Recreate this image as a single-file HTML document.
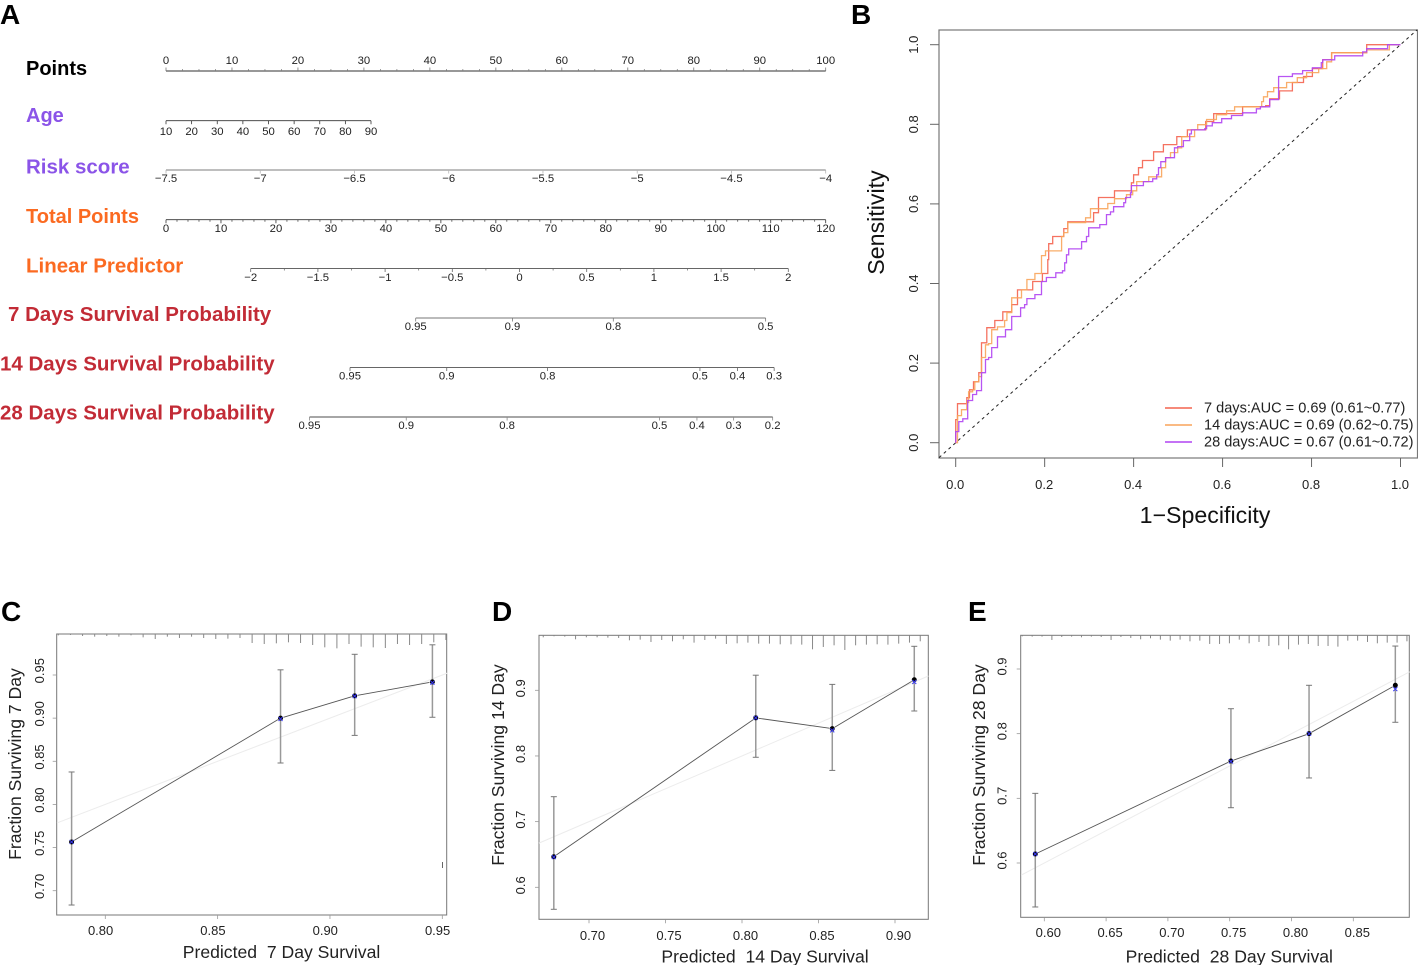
<!DOCTYPE html>
<html lang="en">
<head>
<meta charset="utf-8">
<title>Nomogram, ROC and calibration curves</title>
<style>
html,body{margin:0;padding:0;background:#fff;}
svg{display:block;font-family:"Liberation Sans",Arial,sans-serif;}
.panel{font-weight:bold;font-size:28px;fill:#000;}
.nom{font-weight:bold;font-size:20.5px;}
.atitle{font-size:17.6px;fill:#222;}
.rtitle{font-size:23.2px;fill:#111;}
.leg{font-size:14.55px;fill:#222;}
</style>
</head>
<body>
<svg id="fig" width="1418" height="965" viewBox="0 0 1418 965" xmlns="http://www.w3.org/2000/svg">
  <rect width="1418" height="965" fill="#fff"/>
  <text class="panel" x="0" y="24">A</text>
  <text class="panel" x="851" y="24">B</text>
  <text class="panel" x="1" y="621">C</text>
  <text class="panel" x="492" y="621">D</text>
  <text class="panel" x="968" y="621">E</text>

  <g id="nomogram">
    <text class="nom" x="26" y="75" fill="#000" style="font-size:20px">Points</text>
    <text class="nom" x="26" y="122" fill="#8b54e8" style="font-size:20px">Age</text>
    <text class="nom" x="26" y="173.5" fill="#8b54e8">Risk score</text>
    <text class="nom" x="26" y="223" fill="#fb6a21" style="font-size:20px">Total Points</text>
    <text class="nom" x="26" y="272.5" fill="#fb6a21">Linear Predictor</text>
    <text class="nom" x="8" y="321" fill="#c22b36">7 Days Survival Probability</text>
    <text class="nom" x="0" y="370.5" fill="#c22b36">14 Days Survival Probability</text>
    <text class="nom" x="0" y="419.5" fill="#c22b36">28 Days Survival Probability</text>
  </g>

  <g id="roc">
    <rect x="939" y="30" width="478.5" height="428" fill="none" stroke="#777" stroke-width="1.2"/>
    <text class="rtitle" transform="translate(884,222.5) rotate(-90)" text-anchor="middle">Sensitivity</text>
    <text class="rtitle" x="1205" y="523" text-anchor="middle">1−Specificity</text>
    <g>
      <text class="leg" x="1204" y="412.5">7 days:AUC = 0.69 (0.61~0.77)</text>
      <text class="leg" x="1204" y="429.5">14 days:AUC = 0.69 (0.62~0.75)</text>
      <text class="leg" x="1204" y="446.5">28 days:AUC = 0.67 (0.61~0.72)</text>
      <line x1="1165" x2="1192" y1="408" y2="408" stroke="#f4634f" stroke-width="1.6"/>
      <line x1="1165" x2="1192" y1="425" y2="425" stroke="#f8a45a" stroke-width="1.6"/>
      <line x1="1165" x2="1192" y1="442" y2="442" stroke="#b043f2" stroke-width="1.6"/>
    </g>
  </g>

  <g id="calC">
    <rect x="56.7" y="634" width="390" height="281" fill="none" stroke="#777" stroke-width="1"/>
    <text class="atitle" x="281.5" y="958" text-anchor="middle" xml:space="preserve">Predicted  7 Day Survival</text>
    <text class="atitle" transform="translate(21,764) rotate(-90)" text-anchor="middle">Fraction Surviving 7 Day</text>
    <line x1="442.5" x2="442.5" y1="862" y2="868" stroke="#666" stroke-width="1"/>
  </g>
  <g id="calD">
    <rect x="539" y="635.3" width="389.3" height="284" fill="none" stroke="#777" stroke-width="1"/>
    <text class="atitle" x="765" y="962.5" text-anchor="middle" xml:space="preserve">Predicted  14 Day Survival</text>
    <text class="atitle" transform="translate(504,765) rotate(-90)" text-anchor="middle">Fraction Surviving 14 Day</text>
  </g>
  <g id="calE">
    <rect x="1020.7" y="635.3" width="388.6" height="282" fill="none" stroke="#777" stroke-width="1"/>
    <text class="atitle" x="1229.3" y="962.5" text-anchor="middle" xml:space="preserve">Predicted  28 Day Survival</text>
    <text class="atitle" transform="translate(985,765) rotate(-90)" text-anchor="middle">Fraction Surviving 28 Day</text>
  </g>
</svg>

<script>
/* ---------- Nomogram tick values ---------- */
const pointsTicks = [0,10,20,30,40,50,60,70,80,90,100];
const ageTicks = [10,20,30,40,50,60,70,80,90];
const riskTicks = [-7.5,-7,-6.5,-6,-5.5,-5,-4.5,-4];
const totalPointsTicks = [0,10,20,30,40,50,60,70,80,90,100,110,120];
const linearPredictorTicks = [-2,-1.5,-1,-0.5,0,0.5,1,1.5,2];
const survival7Ticks = [0.95,0.9,0.8,0.5];
const survival14Ticks = [0.95,0.9,0.8,0.5,0.4,0.3];
const survival28Ticks = [0.95,0.9,0.8,0.5,0.4,0.3,0.2];

/* ---------- ROC curves (step points) ---------- */
const rocAxisTicks = [0,0.2,0.4,0.6,0.8,1];
const fpr7 = [0,0,.004,.025,.031,.040,.052,.058,.070,.088,.106,.126,.139,.173,.195,.207,.209,.218,.243,.252,.310,.321,.357,.395,.400,.411,.420,.445,.467,.497,.521,.562,.580,.645,.697,.706,.728,.757,.782,.802,.825,.845,.924,1];
const tpr7 = [0,.058,.098,.113,.133,.153,.176,.251,.289,.307,.329,.347,.384,.405,.425,.460,.500,.518,.538,.555,.578,.616,.633,.653,.673,.691,.709,.731,.749,.769,.786,.807,.827,.844,.847,.864,.884,.905,.920,.940,.962,.980,1,1];
const fpr14 = [0,.004,.013,.025,.029,.038,.043,.052,.058,.067,.074,.081,.094,.110,.115,.126,.148,.160,.178,.193,.202,.238,.243,.252,.292,.303,.342,.357,.384,.398,.407,.434,.463,.472,.483,.499,.508,.537,.544,.564,.586,.609,.627,.688,.692,.701,.715,.744,.768,.789,.816,.834,.845,.924,.975,1];
const tpr14 = [0,.068,.083,.101,.128,.133,.153,.166,.214,.246,.249,.284,.291,.307,.327,.364,.384,.410,.425,.470,.482,.518,.528,.553,.565,.588,.601,.613,.623,.633,.656,.668,.691,.716,.729,.741,.769,.786,.799,.812,.824,.834,.844,.857,.869,.882,.892,.905,.917,.930,.940,.957,.980,.987,1,1];
const fpr28 = [0,0,.007,.016,.027,.038,.047,.058,.067,.074,.081,.094,.112,.126,.146,.155,.160,.178,.193,.204,.225,.240,.245,.249,.254,.283,.294,.299,.324,.339,.348,.355,.378,.382,.393,.395,.422,.443,.452,.456,.461,.472,.492,.499,.512,.526,.530,.560,.564,.577,.598,.620,.645,.676,.685,.706,.726,.757,.780,.802,.822,.825,.852,.915,.924,.971,1];
const tpr28 = [0,.028,.053,.060,.106,.121,.131,.176,.209,.214,.239,.266,.284,.317,.339,.347,.362,.372,.405,.415,.427,.432,.452,.472,.487,.505,.518,.540,.548,.573,.580,.593,.603,.616,.628,.646,.656,.663,.673,.691,.706,.716,.741,.744,.759,.776,.786,.789,.796,.804,.814,.822,.829,.839,.844,.862,.920,.927,.935,.942,.955,.962,.972,.982,.990,1,1];

/* ---------- Calibration, 7 day ---------- */
const xTicks7 = [0.80,0.85,0.90,0.95];
const yTicks7 = [0.70,0.75,0.80,0.85,0.90,0.95];
const predicted7 = [.785,.878,.911,.9456];
const observed7 = [.7565,.900,.9258,.942];
const corrected7 = [.7565,.899,.9255,.941];
const lower7 = [.6834,.848,.880,.901];
const upper7 = [.8376,.956,.974,.985];
const rug7 = [4,3,6,8,6,8,4,10,15,8,12,8,12,15,14,12,27,30,28,25,27,33,40,43,30,38,40,42,30,33,30,25,18];

/* ---------- Calibration, 14 day ---------- */
const xTicks14 = [0.70,0.75,0.80,0.85,0.90];
const yTicks14 = [0.6,0.7,0.8,0.9];
const predicted14 = [.677,.809,.859,.9126];
const observed14 = [.6466,.858,.8416,.916];
const corrected14 = [.646,.858,.839,.9127];
const lower14 = [.5665,.798,.778,.8685];
const upper14 = [.738,.923,.909,.967];
const rug14 = [6,3,4,12,6,6,7,8,15,13,20,14,18,12,22,14,10,26,24,22,25,25,27,27,28,42,35,30,44,30,28,27,28,25,22,18];

/* ---------- Calibration, 28 day ---------- */
const xTicks28 = [0.60,0.65,0.70,0.75,0.80,0.85];
const yTicks28 = [0.6,0.7,0.8,0.9];
const predicted28 = [.5927,.751,.8142,.884];
const observed28 = [.6139,.7577,.80,.8748];
const corrected28 = [.6139,.757,.80,.8689];
const lower28 = [.532,.6855,.7315,.8176];
const upper28 = [.7077,.8386,.8748,.9355];
const rug28 = [3,4,4,14,5,4,6,4,5,14,5,8,12,9,13,16,13,18,16,26,26,24,13,24,20,32,30,42,28,26,32,32,34,16,16,20,24,22,22,18];

var NS = 'http://www.w3.org/2000/svg';
function mk(tag, attrs, parent) {
  var el = document.createElementNS(NS, tag);
  for (var k in attrs) el.setAttribute(k, attrs[k]);
  parent.appendChild(el);
  return el;
}
function lin(d0, r0, d1, r1) {
  return function (v) { return r0 + (v - d0) * (r1 - r0) / (d1 - d0); };
}
function cll(s) { return Math.log(-Math.log(s)); }
function cllScale(x95) {
  return function (s) { return x95 + 134.4 * (cll(s) - cll(0.95)); };
}
function fmtSigned(v) { return (v < 0 ? '\u2212' : '') + Math.abs(v); }

/* ---------- Nomogram ---------- */
var nom = document.getElementById('nomogram');

function nomAxis(opts) {
  var g = mk('g', {}, nom);
  
  
  var t = opts.ticks, sc = opts.scale, dir = opts.up ? -1 : 1;
  var xs = t.map(sc);
  var axis = mk('line', {x1: Math.min.apply(null, xs), x2: Math.max.apply(null, xs), y1: opts.y, y2: opts.y, stroke: opts.color, 'stroke-width': opts.w}, g);
  
  
  for (var i = 0; i < t.length; i++) {
    var tick = mk('line', {x1: xs[i], x2: xs[i], y1: opts.y, y2: opts.y + dir * 3.5, stroke: opts.color, 'stroke-width': 0.8}, g);
    
    
    var lab = mk('text', {x: xs[i], y: opts.labelY, 'text-anchor': 'middle', 'font-size': 11.3, fill: '#222'}, g);
    
    
    lab.textContent = fmtSigned(t[i]);
    if (opts.minor && i < t.length - 1) {
      for (var m = 1; m < opts.minor; m++) {
        var mx = xs[i] + (xs[i + 1] - xs[i]) * m / opts.minor;
        var mt = mk('line', {x1: mx, x2: mx, y1: opts.y, y2: opts.y + dir * 2, stroke: opts.color, 'stroke-width': 0.7}, g);
        
        
      }
    }
  }
}
nomAxis({ticks: pointsTicks, scale: lin(0, 166, 100, 825.7), y: 71, up: true, labelY: 64, minor: 4, color: '#777', w: 1.4});
nomAxis({ticks: ageTicks, scale: lin(10, 166, 90, 371), y: 120.7, labelY: 135, color: '#333', w: 0.9});
nomAxis({ticks: riskTicks, scale: lin(-7.5, 166, -4, 825.7), y: 170, labelY: 182, color: '#b5b5b5', w: 1.8});
nomAxis({ticks: totalPointsTicks, scale: lin(0, 166, 120, 825.7), y: 219.7, labelY: 232, minor: 5, color: '#333', w: 0.9});
nomAxis({ticks: linearPredictorTicks, scale: lin(-2, 250.7, 2, 788.3), y: 268.5, labelY: 281, minor: 2, color: '#666', w: 0.9});
nomAxis({ticks: survival7Ticks, scale: cllScale(415.7), y: 318, labelY: 330, color: '#777', w: 1.1});
nomAxis({ticks: survival14Ticks, scale: cllScale(350), y: 367.5, labelY: 379.5, color: '#666', w: 0.9});
nomAxis({ticks: survival28Ticks, scale: cllScale(309.5), y: 417, labelY: 429, color: '#888', w: 1.4});

/* ---------- ROC ---------- */
var roc = document.getElementById('roc');
var rocX = lin(0, 955.7, 1, 1400.5);
var rocY = lin(0, 442.7, 1, 44.7);

rocAxisTicks.forEach(function (v) {
  var xt = mk('line', {x1: rocX(v), x2: rocX(v), y1: 458, y2: 467, stroke: '#666', 'stroke-width': 1}, roc);
  
  
  var xl = mk('text', {x: rocX(v) - 0.5, y: 489, 'text-anchor': 'middle', 'font-size': 13, fill: '#222'}, roc);
  
  
  xl.textContent = v.toFixed(1);
  var yt = mk('line', {x1: 930, x2: 939, y1: rocY(v), y2: rocY(v), stroke: '#666', 'stroke-width': 1}, roc);
  
  
  var yl = mk('text', {transform: 'translate(918,' + rocY(v) + ') rotate(-90)', 'text-anchor': 'middle', 'font-size': 13, fill: '#222'}, roc);
  
  
  yl.textContent = v.toFixed(1);
});

var refLine = mk('line', {x1: rocX(-0.0375), y1: rocY(-0.0375), x2: rocX(1.0375), y2: rocY(1.0375), stroke: '#222', 'stroke-width': 1, 'stroke-dasharray': '3 3.4'}, roc);



function stepPath(xs, ys) {
  var d = 'M' + rocX(xs[0]).toFixed(1) + ' ' + rocY(ys[0]).toFixed(1);
  for (var i = 1; i < xs.length; i++) {
    d += 'H' + rocX(xs[i]).toFixed(1) + 'V' + rocY(ys[i]).toFixed(1);
  }
  return d;
}
var curve7 = mk('path', {d: stepPath(fpr7, tpr7), fill: 'none', stroke: '#f4634f', 'stroke-width': 1.3, opacity: 0.9}, roc);


var curve14 = mk('path', {d: stepPath(fpr14, tpr14), fill: 'none', stroke: '#f8a45a', 'stroke-width': 1.3, opacity: 0.9}, roc);


var curve28 = mk('path', {d: stepPath(fpr28, tpr28), fill: 'none', stroke: '#b043f2', 'stroke-width': 1.3, opacity: 0.9}, roc);



/* ---------- Calibration panels ---------- */
function calibration(o) {
  var g = document.getElementById(o.id), sx = o.sx, sy = o.sy;

  o.xTicks.forEach(function (v) {
    var t = mk('line', {x1: sx(v), x2: sx(v), y1: o.bottom, y2: o.bottom + 4, stroke: '#999', 'stroke-width': 0.8}, g);
    
    
    var l = mk('text', {x: sx(v) + o.xLabelDx, y: o.xLabelY, 'text-anchor': 'middle', 'font-size': 13, fill: '#222'}, g);
    
    
    l.textContent = v.toFixed(2);
  });
  o.yTicks.forEach(function (v) {
    var t = mk('line', {x1: o.left - 4, x2: o.left, y1: sy(v), y2: sy(v), stroke: '#999', 'stroke-width': 0.8}, g);
    
    
    var l = mk('text', {transform: 'translate(' + o.yLabelX + ',' + (sy(v) + o.yLabelDy) + ') rotate(-90)', 'text-anchor': 'middle', 'font-size': 13, fill: '#222'}, g);
    
    
    l.textContent = v.toFixed(o.yDigits);
  });

  var ideal = mk('line', {x1: sx(o.lo), y1: sy(o.lo), x2: sx(o.hi), y2: sy(o.hi), stroke: '#ececec', 'stroke-width': 1}, g);
  
  

  o.rug.forEach(function (c, i) {
    var rx = sx(o.rugLo + (o.rugHi - o.rugLo) * i / (o.rug.length - 1));
    var r = mk('line', {x1: rx, x2: rx, y1: o.top, y2: o.top + c / 3, stroke: '#888', 'stroke-width': 1}, g);
    
    
  });

  for (var i = 0; i < o.pred.length - 1; i++) {
    var x1 = sx(o.pred[i]), y1 = sy(o.obs[i]), x2 = sx(o.pred[i + 1]), y2 = sy(o.obs[i + 1]);
    var len = Math.sqrt((x2 - x1) * (x2 - x1) + (y2 - y1) * (y2 - y1));
    var ux = (x2 - x1) / len, uy = (y2 - y1) / len;
    var seg = mk('line', {x1: x1 + ux * 3, y1: y1 + uy * 3, x2: x2 - ux * 3, y2: y2 - uy * 3, stroke: '#555', 'stroke-width': 0.9}, g);
    
    
  }

  o.pred.forEach(function (p, i) {
    var cx = sx(p), top = sy(o.upper[i]), bot = sy(o.lower[i]);
    var bar = mk('line', {x1: cx, x2: cx, y1: top, y2: bot, stroke: '#999', 'stroke-width': 1.5}, g);
    
    
    var capTop = mk('line', {x1: cx - 3, x2: cx + 3, y1: top, y2: top, stroke: '#777', 'stroke-width': 1}, g);
    
    
    var capBot = mk('line', {x1: cx - 3, x2: cx + 3, y1: bot, y2: bot, stroke: '#777', 'stroke-width': 1}, g);
    
    
    var dot = mk('circle', {cx: cx, cy: sy(o.obs[i]), r: 2.5, fill: '#000'}, g);
    
    
    var cy = sy(o.corr[i]);
    var cross = mk('path', {d: 'M' + (cx - 2) + ' ' + (cy - 2) + 'L' + (cx + 2) + ' ' + (cy + 2) + 'M' + (cx - 2) + ' ' + (cy + 2) + 'L' + (cx + 2) + ' ' + (cy - 2), stroke: '#3a3af0', 'stroke-width': 1, fill: 'none'}, g);
    
    
  });
}

calibration({id: 'calC', sx: lin(0.80, 105.3, 0.95, 442.3), sy: lin(0.70, 890.7, 0.95, 675),
  left: 56.7, top: 634, bottom: 915, xLabelY: 935, yLabelX: 44, yDigits: 2, lo: 0.7785, hi: 0.9522,
  xLabelDx: -4.7, yLabelDy: -4.3,
  rugLo: 0.7791, rugHi: 0.9516,
  xTicks: xTicks7, yTicks: yTicks7, pred: predicted7, obs: observed7, corr: corrected7, lower: lower7, upper: upper7, rug: rug7});
calibration({id: 'calD', sx: lin(0.70, 589, 0.90, 895), sy: lin(0.6, 887.3, 0.9, 690.3),
  left: 539, top: 635.3, bottom: 919.3, xLabelY: 940, yLabelX: 525, yDigits: 1, lo: 0.6673, hi: 0.9218,
  xLabelDx: 3.5, yLabelDy: -2,
  rugLo: 0.6701, rugHi: 0.9165,
  xTicks: xTicks14, yTicks: yTicks14, pred: predicted14, obs: observed14, corr: corrected14, lower: lower14, upper: upper14, rug: rug14});
calibration({id: 'calE', sx: lin(0.60, 1044.3, 0.85, 1353.3), sy: lin(0.6, 863, 0.9, 669),
  left: 1020.7, top: 635.3, bottom: 917.3, xLabelY: 937, yLabelX: 1006.5, yDigits: 1, lo: 0.5812, hi: 0.8956,
  xLabelDx: 4, yLabelDy: -2.5,
  rugLo: 0.5822, rugHi: 0.8934,
  xTicks: xTicks28, yTicks: yTicks28, pred: predicted28, obs: observed28, corr: corrected28, lower: lower28, upper: upper28, rug: rug28});
</script>
</body>
</html>
